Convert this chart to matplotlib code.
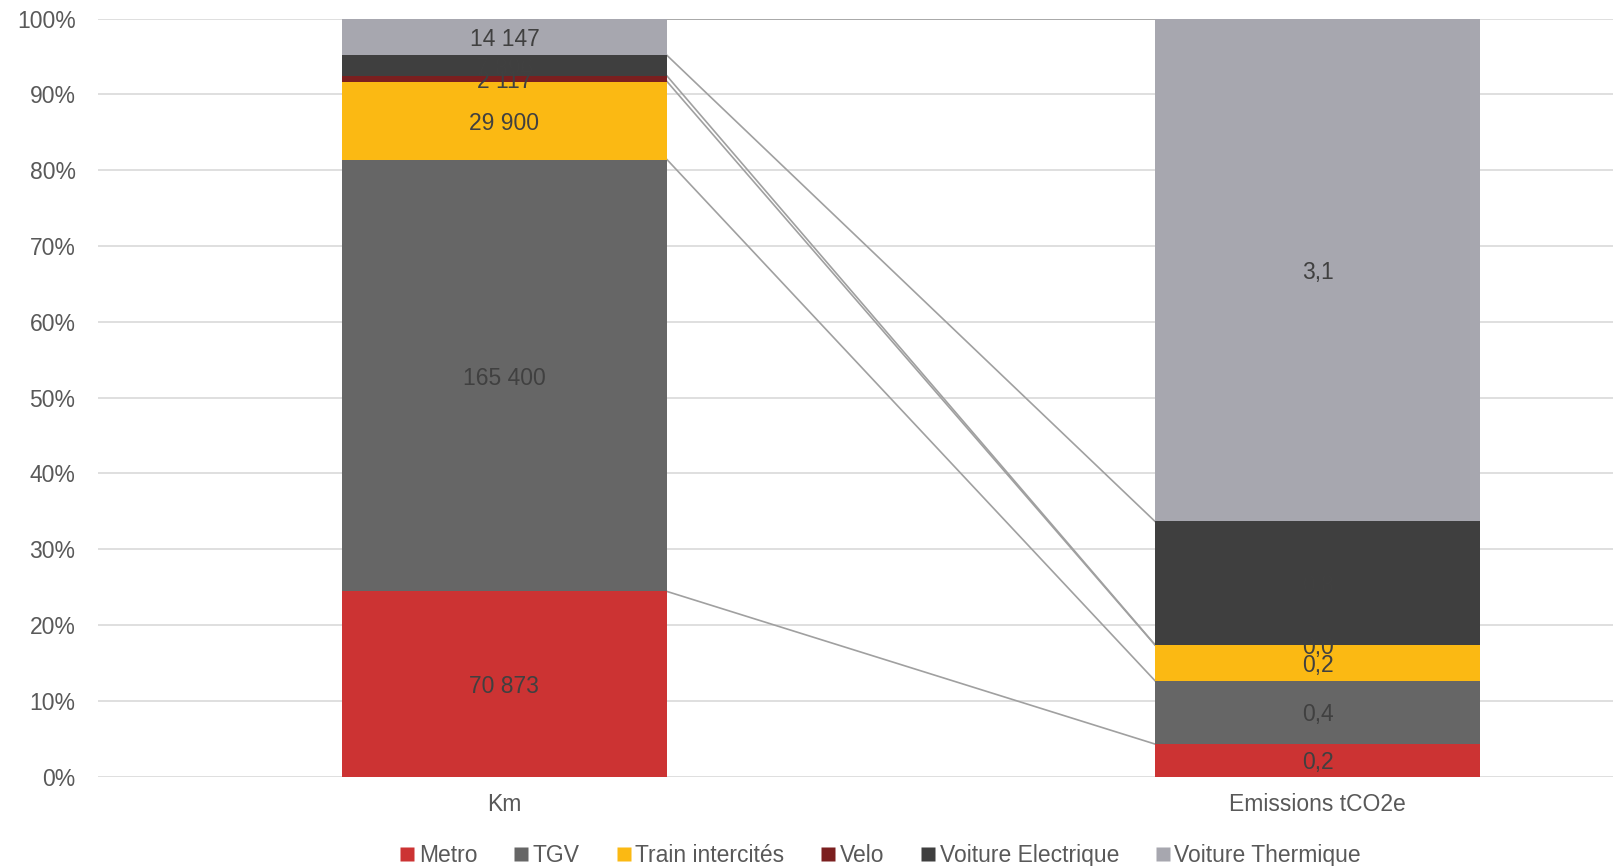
import numpy as np
import matplotlib
matplotlib.use("Agg")
import matplotlib.pyplot as plt
from matplotlib.lines import Line2D

plt.rcParams["font.family"] = ["Liberation Sans", "DejaVu Sans"]

categories = ["Km", "Emissions tCO2e"]
modes = ["Metro", "TGV", "Train intercités", "Velo", "Voiture Electrique", "Voiture Thermique"]
km = [70873, 165400, 29900, 2117, 7896, 14147]
emissions = [0.20, 0.39, 0.22, 0.002, 0.76, 3.10]
colors = ["#CC3333", "#666666", "#FBB913", "#7B1F1F", "#3F3F3F", "#A7A7AF"]

TEXT = "#595959"
LABEL = "#404040"
FS = 16.5

fig = plt.figure(figsize=(16.13, 8.66), dpi=100)
ax = fig.add_axes([95 / 1568, 87 / 842, 1.0 - 95 / 1568 + 0.001, 737 / 842])

width = 0.4
series = [np.array(km, float), np.array(emissions, float)]
fracs = [s / s.sum() * 100 for s in series]
cums = [np.concatenate([[0], np.cumsum(f)]) for f in fracs]

for xi, (vals, f, c) in enumerate(zip(series, fracs, cums)):
    for i in range(len(modes)):
        ax.bar(xi, f[i], bottom=c[i], width=width, color=colors[i],
               edgecolor="none", zorder=3)
        if xi == 0:
            txt = f"{int(vals[i]):,}".replace(",", " ")
        else:
            txt = f"{vals[i]:.1f}".replace(".", ",")
        ax.text(xi, c[i] + f[i] / 2, txt, ha="center", va="center_baseline",
                fontsize=FS, color=LABEL, zorder=5)

# series lines between the two stacks
for k in range(1, len(modes) + 1):
    ax.plot([0 + width / 2, 1 - width / 2], [cums[0][k], cums[1][k]],
            color="#A0A0A0", lw=1.2, zorder=2)

ax.set_xlim(-0.5, 1.365)
ax.set_ylim(0, 100)
ax.set_yticks(np.arange(0, 101, 10))
ax.set_yticklabels([f"{v}%" for v in range(0, 101, 10)])
ax.set_xticks([0, 1])
ax.set_xticklabels(categories)
ax.tick_params(axis="y", length=0, pad=16, labelsize=FS, labelcolor=TEXT)
ax.tick_params(axis="x", length=0, pad=12, labelsize=FS, labelcolor=TEXT)
ax.grid(axis="y", color="#D9D9D9", lw=1.2, zorder=0)
for s in ax.spines.values():
    s.set_visible(False)

handles = [Line2D([], [], marker="s", ls="none", markersize=10,
                  markerfacecolor=c, markeredgecolor="none") for c in colors]
fig.legend(handles, modes, loc="center", bbox_to_anchor=(0.546, 0.012),
           ncol=6, frameon=False, fontsize=FS, labelcolor=TEXT,
           handlelength=0.6, handletextpad=0.2, columnspacing=1.62)

fig.savefig("out.png", dpi=100)
